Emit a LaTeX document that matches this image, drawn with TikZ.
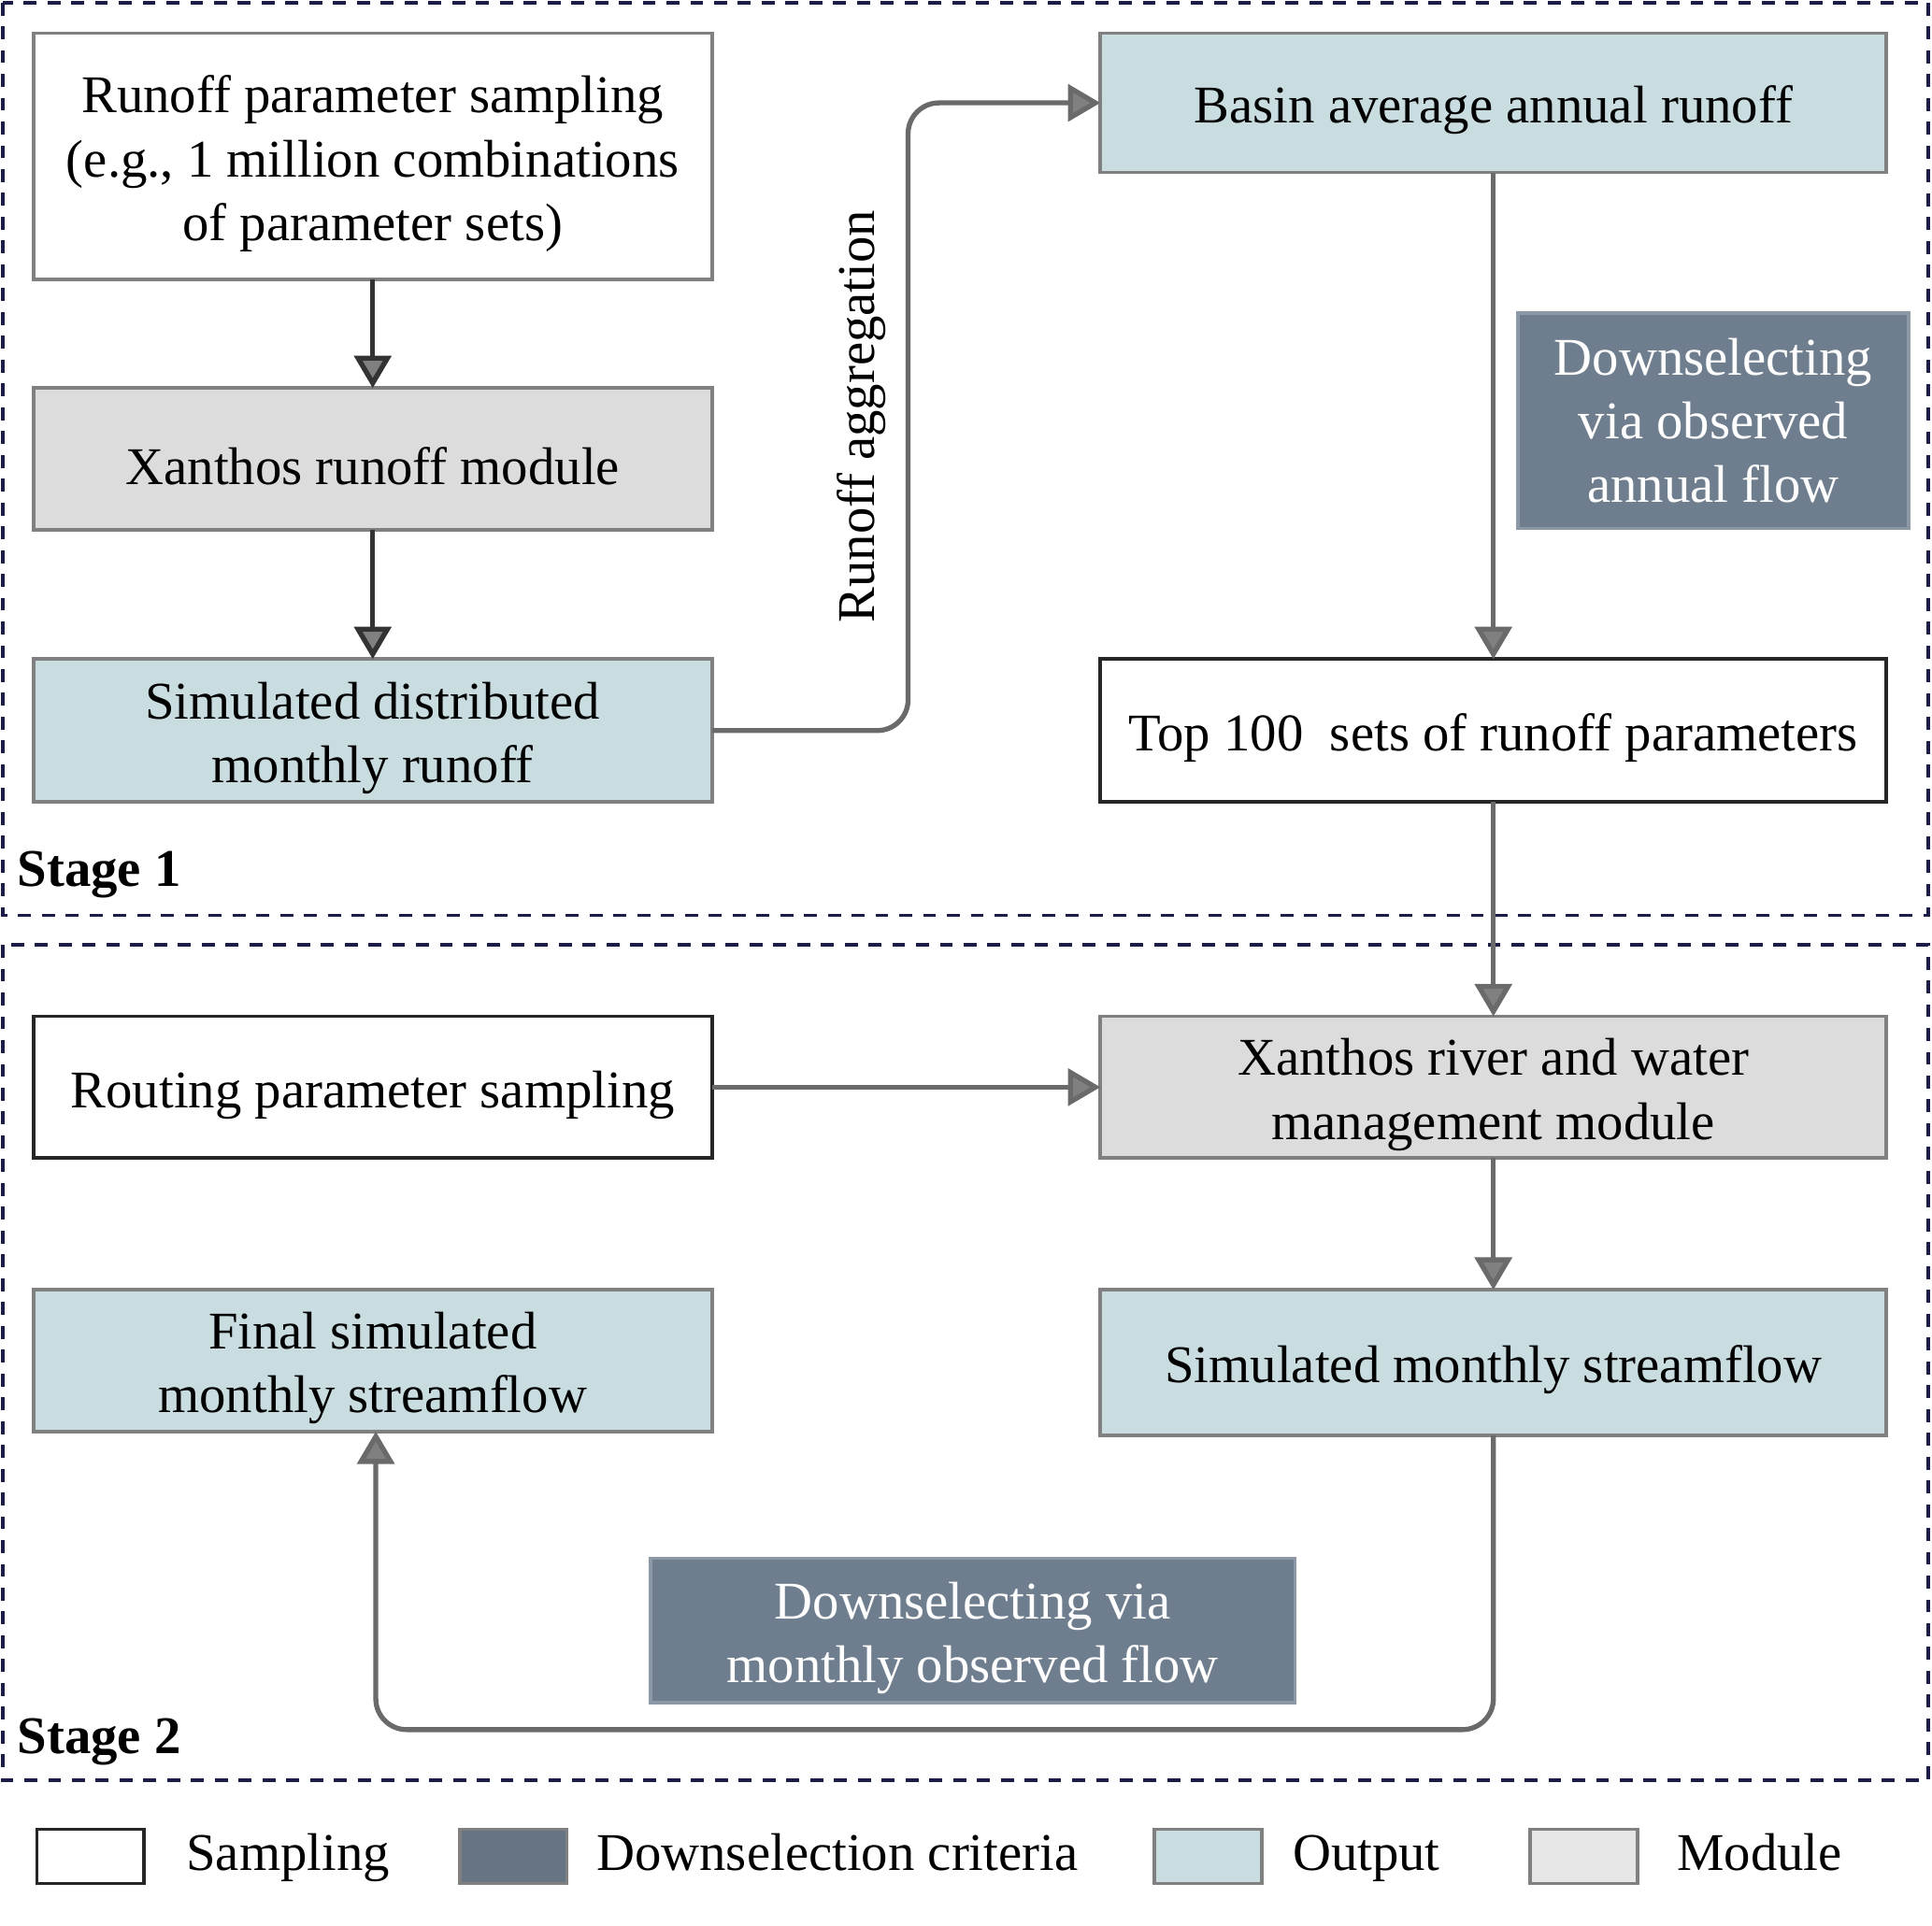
\documentclass[tikz,border=0pt]{standalone}
\usepackage{fontspec}
\setmainfont{Liberation Serif}
\usetikzlibrary{arrows.meta}
\definecolor{outcol}{HTML}{C9DDE1}
\definecolor{modcol}{HTML}{DCDCDC}
\definecolor{critcol}{HTML}{6F7E8E}
\definecolor{stagecol}{HTML}{1C1C48}
\definecolor{edgecol}{HTML}{808080}
\definecolor{flowcol}{HTML}{6A6A6A}
\tikzset{
  box/.style={rectangle, align=flush center, outer sep=0pt, inner sep=2pt, line width=1.6pt,
    font=\fontsize{24.5}{29.5}\selectfont, execute at begin node={\rule{0pt}{24pt}}},
  sampbox/.style={box, draw=black!85, fill=white},
  outbox/.style={box, draw=edgecol, fill=outcol},
  modbox/.style={box, draw=edgecol, fill=modcol},
  critbox/.style={box, draw=critcol!80!white, fill=critcol, text=white},
  flow/.style={draw=flowcol, line width=2.3pt,
    -{Triangle[length=15pt,width=17pt,fill=black!50]}},
  darkflow/.style={flow, draw=black!80},
  stagebox/.style={draw=stagecol, line width=1.7pt, dash pattern=on 6pt off 5pt},
  stagelab/.style={anchor=west, font=\fontsize{24.5}{29.5}\selectfont\bfseries},
  keybox/.style={rectangle, minimum width=1.74cm, minimum height=0.88cm, outer sep=0pt, line width=1.6pt},
  keytext/.style={anchor=base west, font=\fontsize{24.5}{29.5}\selectfont}
}
\begin{document}
\begin{tikzpicture}[x=0.02cm, y=-0.02cm]
    \useasboundingbox (0,0) rectangle (1568,1563);

    % stage frames
    \draw[stagebox] (2,2) rectangle (1565,743);
    \draw[stagebox] (2,767) rectangle (1565,1445);
    \node[stagelab] (st1) at (8,710) {Stage 1};
    \node[stagelab] (st2) at (8,1414) {Stage 2};

    % stage 1
    \node[sampbox, draw=edgecol, minimum width=11.02cm, minimum height=4cm, text width=10.8cm] (rsamp) at (302.5,127)
        {Runoff parameter sampling\\(e.g., 1 million combinations\\of parameter sets)};
    \node[modbox, minimum width=11.02cm, minimum height=2.3cm] (rmod) at (302.5,372.5) {Xanthos runoff module};
    \node[outbox, minimum width=11.02cm, minimum height=2.32cm, text width=10.8cm] (dist) at (302.5,593)
        {Simulated distributed\\monthly runoff};
    \node[outbox, minimum width=12.76cm, minimum height=2.26cm] (basin) at (1212,83.5) {Basin average annual runoff};
    \node[critbox, minimum width=6.34cm, minimum height=3.5cm, execute at begin node={}] (annsel) at (1390.5,341.5)
        {Downselecting\\via observed\\annual flow};
    \node[sampbox, minimum width=12.76cm, minimum height=2.32cm] (top) at (1212,593)
        {Top 100~ sets of runoff parameters};

    % stage 2
    \node[sampbox, minimum width=11.02cm, minimum height=2.3cm] (qsamp) at (302.5,882.5) {Routing parameter sampling};
    \node[modbox, minimum width=12.76cm, minimum height=2.3cm, text width=12.5cm] (wmod) at (1212,882.5)
        {Xanthos river and water\\management module};
    \node[outbox, minimum width=12.76cm, minimum height=2.36cm] (flow) at (1212,1106) {Simulated monthly streamflow};
    \node[outbox, minimum width=11.02cm, minimum height=2.3cm, text width=10.8cm] (final) at (302.5,1104.5)
        {Final simulated\\monthly streamflow};
    \node[critbox, minimum width=10.46cm, minimum height=2.34cm, text width=10.2cm] (monsel) at (789.5,1323.5)
        {Downselecting via\\monthly observed flow};

    % connectors
    \draw[darkflow] (rsamp) -- (rmod);
    \draw[darkflow] (rmod) -- (dist);
    \coordinate (aggr) at (737,593);
    \draw[flow, rounded corners=0.5cm] (dist.east) -- (aggr) |- (basin.west);
    \node[rotate=90, font=\fontsize{24.5}{29.5}\selectfont] (aggrlab) at (699,338) {Runoff aggregation};
    \draw[flow] (basin) -- (top);
    \draw[flow] (top) -- (wmod);
    \draw[flow] (qsamp) -- (wmod);
    \draw[flow] (wmod) -- (flow);
    \coordinate (back) at (750,1404);
    \coordinate (finalin) at (305,1162);
    \draw[flow, rounded corners=0.5cm] (flow.south) |- (back) -| (finalin);

    % legend
    \node[keybox, draw=black!85, fill=white] (k1) at (73.5,1507) {};
    \node[keytext] (t1) at (145,1518) {Sampling};
    \node[keybox, draw=edgecol, fill=critcol!92!black] (k2) at (416.5,1507) {};
    \node[keytext] (t2) at (478,1518) {Downselection criteria};
    \node[keybox, draw=edgecol, fill=outcol] (k3) at (980.5,1507) {};
    \node[keytext] (t3) at (1043,1518) {Output};
    \node[keybox, draw=edgecol, fill=modcol!70!white] (k4) at (1285.5,1507) {};
    \node[keytext] (t4) at (1355,1518) {Module};
\end{tikzpicture}
\end{document}
